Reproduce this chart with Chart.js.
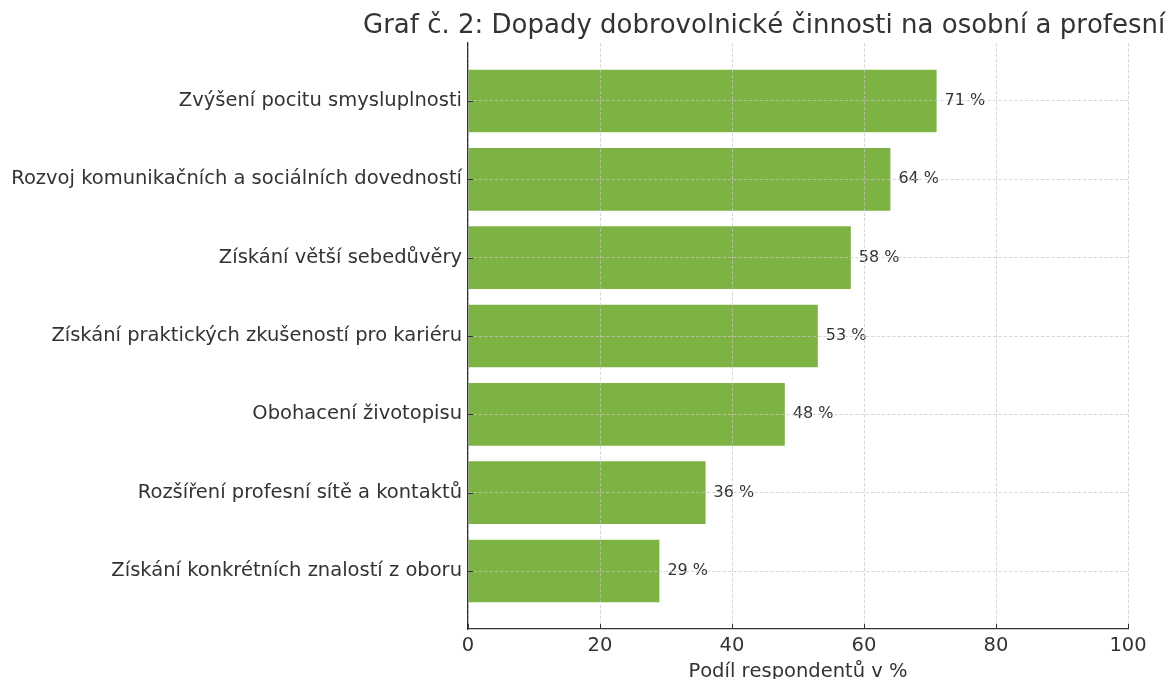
<!DOCTYPE html>
<html>
<head>
<meta charset="utf-8">
<script src="https://cdn.jsdelivr.net/npm/chart.js@4/dist/chart.umd.min.js"></script>
<style>
html,body{margin:0;padding:0;background:#fff;overflow:hidden;}
canvas{display:block;}
</style>
</head>
<body>
<canvas id="c" width="1169" height="679"></canvas>
<script>
const chartTitle = "Graf č. 2: Dopady dobrovolnické činnosti na osobní a profesní rozvoj";
const categories = [
  "Zvýšení pocitu smysluplnosti",
  "Rozvoj komunikačních a sociálních dovedností",
  "Získání větší sebedůvěry",
  "Získání praktických zkušeností pro kariéru",
  "Obohacení životopisu",
  "Rozšíření profesní sítě a kontaktů",
  "Získání konkrétních znalostí z oboru"
];
const values = [71, 64, 58, 53, 48, 36, 29];
const xTicks = [0, 20, 40, 60, 80, 100];
const xTitle = "Podíl respondentů v %";

const FONT = "'DejaVu Sans', sans-serif";
const TEXT = "#333333";
const GRID = 'rgba(200,200,200,0.7)';

const decorPlugin = {
  id: 'decor',
  afterDatasetsDraw(chart) {
    const ctx = chart.ctx;
    const meta = chart.getDatasetMeta(0);
    ctx.save();
    ctx.font = "16px " + FONT;
    ctx.fillStyle = TEXT;
    ctx.textAlign = "left";
    ctx.textBaseline = "middle";
    meta.data.forEach((bar, i) => {
      ctx.fillText(values[i] + " %", bar.x + 8, bar.y);
    });
    ctx.restore();
  },
  afterDraw(chart) {
    const ctx = chart.ctx, a = chart.chartArea;
    const xs = chart.scales.x, ys = chart.scales.y;
    ctx.save();
    ctx.font = "26px " + FONT;
    ctx.fontKerning = "none";
    ctx.fillStyle = TEXT;
    ctx.textAlign = "left";
    ctx.textBaseline = "alphabetic";
    ctx.fillText(chartTitle, 363, 33);
    ctx.textAlign = "center";
    ctx.font = "19.5px " + FONT;
    ctx.fillText(xTitle, (a.left + a.right) / 2, 677);
    ctx.strokeStyle = TEXT;
    ctx.lineWidth = 1;
    ctx.beginPath();
    xTicks.forEach(v => {
      const px = Math.round(xs.getPixelForValue(v)) + 0.5;
      ctx.moveTo(px, a.bottom);
      ctx.lineTo(px, a.bottom - 5);
    });
    categories.forEach((c, i) => {
      const py = Math.round(ys.getPixelForValue(i)) + 0.5;
      ctx.moveTo(a.left, py);
      ctx.lineTo(a.left + 5, py);
    });
    ctx.stroke();
    ctx.restore();
  }
};

new Chart(document.getElementById('c'), {
  type: 'bar',
  data: {
    datasets: [{
      data: values.map((v, i) => ({ x: v, y: i })),
      backgroundColor: '#7cb342',
      borderWidth: 0,
      barPercentage: 0.8,
      categoryPercentage: 1.0
    }]
  },
  plugins: [decorPlugin],
  options: {
    responsive: false,
    animation: false,
    devicePixelRatio: 1,
    indexAxis: 'y',
    layout: { padding: { top: 43, right: 41, left: 0, bottom: 0 } },
    plugins: {
      legend: { display: false },
      tooltip: { enabled: false },
      title: { display: false }
    },
    scales: {
      x: {
        type: 'linear',
        min: 0, max: 100,
        afterBuildTicks(scale) { scale.ticks = xTicks.map(v => ({ value: v })); },
        afterFit(scale) { scale.height = 50; },
        grid: {
          z: 1,
          color: GRID,
          lineWidth: 1,
          drawTicks: false
        },
        border: { display: true, color: TEXT, width: 1.25, dash: [3.5, 1.8], z: 2 },
        ticks: {
          font: { family: FONT, size: 19.5 },
          color: TEXT,
          padding: 5,
          maxRotation: 0
        },
        title: { display: false }
      },
      y: {
        type: 'linear',
        reverse: true,
        offset: false,
        min: -0.74, max: 6.74,
        afterBuildTicks(scale) { scale.ticks = categories.map((c, i) => ({ value: i })); },
        afterFit(scale) { scale.width = 468; },
        grid: {
          z: 1,
          offset: false,
          color: GRID,
          lineWidth: 1,
          drawTicks: false
        },
        border: { display: true, color: TEXT, width: 1.25, dash: [3.5, 1.8], z: 2 },
        ticks: {
          font: { family: FONT, size: 19.5 },
          color: TEXT,
          padding: 6,
          callback: (v) => categories[v] !== undefined ? categories[v] : ''
        }
      }
    }
  }
});
</script>
</body>
</html>
